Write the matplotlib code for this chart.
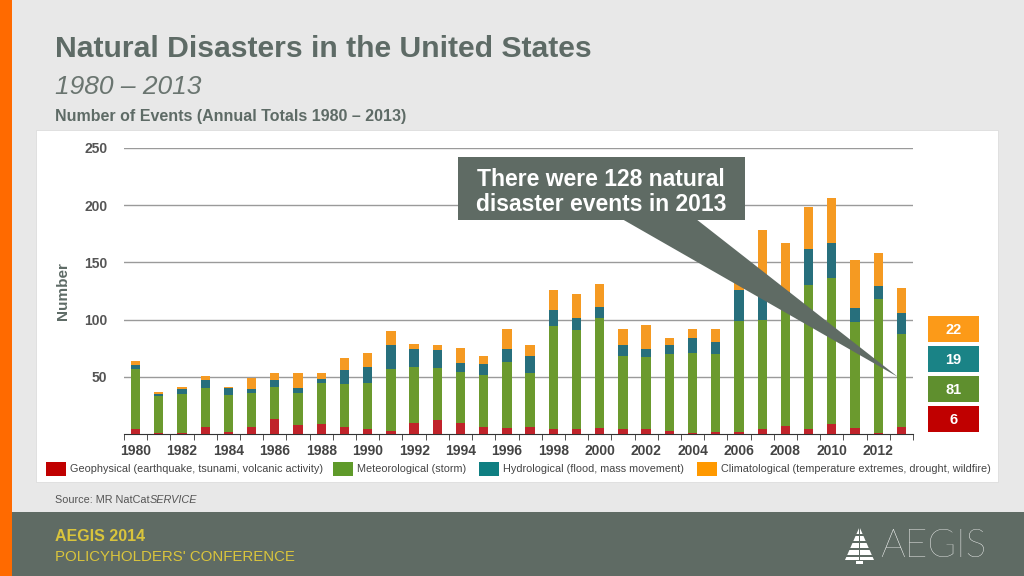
import numpy as np
import matplotlib
matplotlib.use('Agg')
import matplotlib.pyplot as plt
from matplotlib.patches import Rectangle, Polygon

# data
years = list(range(1980, 2014))
geo = [4, 1, 1, 6, 2, 6, 13, 8, 9, 6, 4, 3, 10, 12, 10, 6, 5,
       6, 4, 4, 5, 4, 4, 3, 1, 2, 2, 4, 7, 4, 9, 5, 1, 6]
met = [53, 32, 34, 34, 32, 30, 28, 28, 36, 38, 41, 54, 49, 46, 44, 46, 58,
       47, 90, 87, 96, 64, 63, 67, 70, 68, 97, 96, 104, 126, 127, 93, 117, 81]
hyd = [3, 2, 4, 7, 6, 3, 6, 4, 3, 12, 14, 21, 15, 15, 8, 9, 11,
       15, 14, 10, 10, 10, 7, 8, 13, 10, 27, 30, 13, 32, 31, 12, 11, 19]
clim = [4, 2, 2, 4, 1, 10, 6, 13, 5, 10, 12, 12, 5, 5, 13, 7, 18,
        10, 18, 21, 20, 14, 21, 6, 8, 12, 14, 48, 43, 36, 39, 42, 29, 22]
labels = ['Geophysical (earthquake, tsunami, volcanic activity)',
          'Meteorological (storm)',
          'Hydrological (flood, mass movement)',
          'Climatological (temperature extremes, drought, wildfire)']
colors = ['#c0232a', '#6b9a2e', '#276f7c', '#f59a22']
legend_colors = ['#c00000', '#5f9a2a', '#0f7f82', '#ff9900']

plt.rcParams['font.family'] = ['Liberation Sans', 'DejaVu Sans']
dark = '#5e6b66'
footer_c = '#5f6b64'

fig = plt.figure(figsize=(10.24, 5.76), dpi=100)
fig.patch.set_facecolor('#e8e8e8')

# background layer in pixel coords
bg = fig.add_axes([0, 0, 1, 1])
bg.set_xlim(0, 1024)
bg.set_ylim(576, 0)
bg.axis('off')
bg.set_zorder(0)
bg.add_patch(Rectangle((36, 130), 962, 352, facecolor='white', edgecolor='#dddddd', lw=0.6))
bg.add_patch(Rectangle((0, 512), 1024, 64, facecolor=footer_c, edgecolor='none'))
bg.add_patch(Rectangle((0, 0), 12, 576, facecolor='#ff6a00', edgecolor='none'))

bg.text(55, 57, 'Natural Disasters in the United States', fontsize=21.7,
        fontweight='bold', color=dark, va='baseline')
bg.text(55, 94, '1980 – 2013', fontsize=19, style='italic', color='#6a7570', va='baseline')
bg.text(55, 120.5, 'Number of Events (Annual Totals 1980 – 2013)', fontsize=11.5,
        fontweight='bold', color=dark, va='baseline')
src = bg.text(55, 503, 'Source: MR NatCat', fontsize=7.8, color='#555555', va='baseline')
bg.text(55, 541, 'AEGIS 2014', fontsize=11.5, fontweight='bold', color='#d9c43c', va='baseline')
bg.text(55, 561, "POLICYHOLDERS' CONFERENCE", fontsize=10.8, color='#d9c43c', va='baseline')
bg.text(880, 557, 'AEGIS', fontsize=28, color='white', va='baseline',
        family=['Lato', 'Liberation Sans'], fontweight='light')
bg.text(63, 291, 'Number', rotation=90, fontsize=11, fontweight='bold', color=dark,
        ha='center', va='center')

# little tree logo
bg.add_patch(Polygon([(845, 560), (874, 560), (859.5, 527)], closed=True,
                     facecolor='white', edgecolor='none'))
for yy in [534, 541, 548, 555]:
    bg.add_patch(Rectangle((840, yy), 40, 1.6, facecolor=footer_c, edgecolor='none'))
bg.add_patch(Rectangle((859, 527), 1.2, 34, facecolor=footer_c, edgecolor='none'))
bg.add_patch(Rectangle((856, 561), 7, 3, facecolor='white', edgecolor='none'))

# chart
ax = fig.add_axes([124 / 1024, 1 - 434 / 576, 789 / 1024, 286 / 576])
ax.set_zorder(1)
ax.patch.set_alpha(0)
x = np.arange(len(years))
bottom = np.zeros(len(years))
for vals, c in zip([geo, met, hyd, clim], colors):
    ax.bar(x, vals, width=0.4, bottom=bottom, color=c, zorder=3)
    bottom += np.array(vals)

ax.set_xlim(-0.5, len(years) - 0.5)
ax.set_ylim(0, 250)
ax.set_yticks([50, 100, 150, 200, 250])
ax.yaxis.grid(True, color='#9a9a9a', lw=1)
ax.set_axisbelow(True)
for s in ['top', 'right', 'left']:
    ax.spines[s].set_visible(False)
ax.spines['bottom'].set_color('#333333')
ax.tick_params(axis='y', length=0, labelsize=10, labelcolor='#555555', pad=12)
for t in ax.get_yticklabels():
    t.set_fontweight('bold')
ax.set_xticks(x[::2])
ax.set_xticklabels([str(y) for y in years[::2]], fontsize=10, fontweight='bold', color='#444444')
ax.set_xticks(np.arange(-0.5, len(years), 1), minor=True)
ax.tick_params(axis='x', which='major', length=0, pad=7)
ax.tick_params(axis='x', which='minor', length=4, color='#333333')

# overlay: callout, 2013 boxes, legend
ov = fig.add_axes([0, 0, 1, 1])
ov.set_xlim(0, 1024)
ov.set_ylim(576, 0)
ov.axis('off')
ov.set_zorder(5)
ov.patch.set_alpha(0)

ov.add_patch(Polygon([(622, 219), (696, 219), (898, 377)], closed=True,
                     facecolor=footer_c, edgecolor='none'))
ov.add_patch(Rectangle((458, 157), 287, 63, facecolor=footer_c, edgecolor='none'))
ov.text(601, 186, 'There were %d natural' % (geo[-1] + met[-1] + hyd[-1] + clim[-1]),
        fontsize=16.5, fontweight='bold', color='white', ha='center', va='baseline')
ov.text(601, 211, 'disaster events in %d' % years[-1], fontsize=16.5, fontweight='bold',
        color='white', ha='center', va='baseline')

box_cols = ['#fc9a18', '#1a8386', '#5f8f2e', '#c00000']
for i, (v, c) in enumerate(zip([clim[-1], hyd[-1], met[-1], geo[-1]], box_cols)):
    y0 = 316 + i * 30
    ov.add_patch(Rectangle((928, y0), 51, 26, facecolor=c, edgecolor='none'))
    ov.text(953.5, y0 + 13.5, str(v), fontsize=10.5, fontweight='bold', color='white',
            ha='center', va='center')

leg_x = [46, 333, 479, 697]
for lx, lab, c in zip(leg_x, labels, legend_colors):
    ov.add_patch(Rectangle((lx, 462), 20, 14, facecolor=c, edgecolor='none'))
    ov.text(lx + 24, 469.5, lab, fontsize=7.8, color='#444444', va='center')

# italic part of the source line, placed right after the plain part
fig.canvas.draw()
bb = src.get_window_extent()
x_end = bg.transData.inverted().transform((bb.x1, bb.y0))[0]
bg.text(x_end, 503, 'SERVICE', fontsize=7.8, style='italic', color='#555555', va='baseline')

fig.savefig('out.png', dpi=100, facecolor=fig.get_facecolor())
